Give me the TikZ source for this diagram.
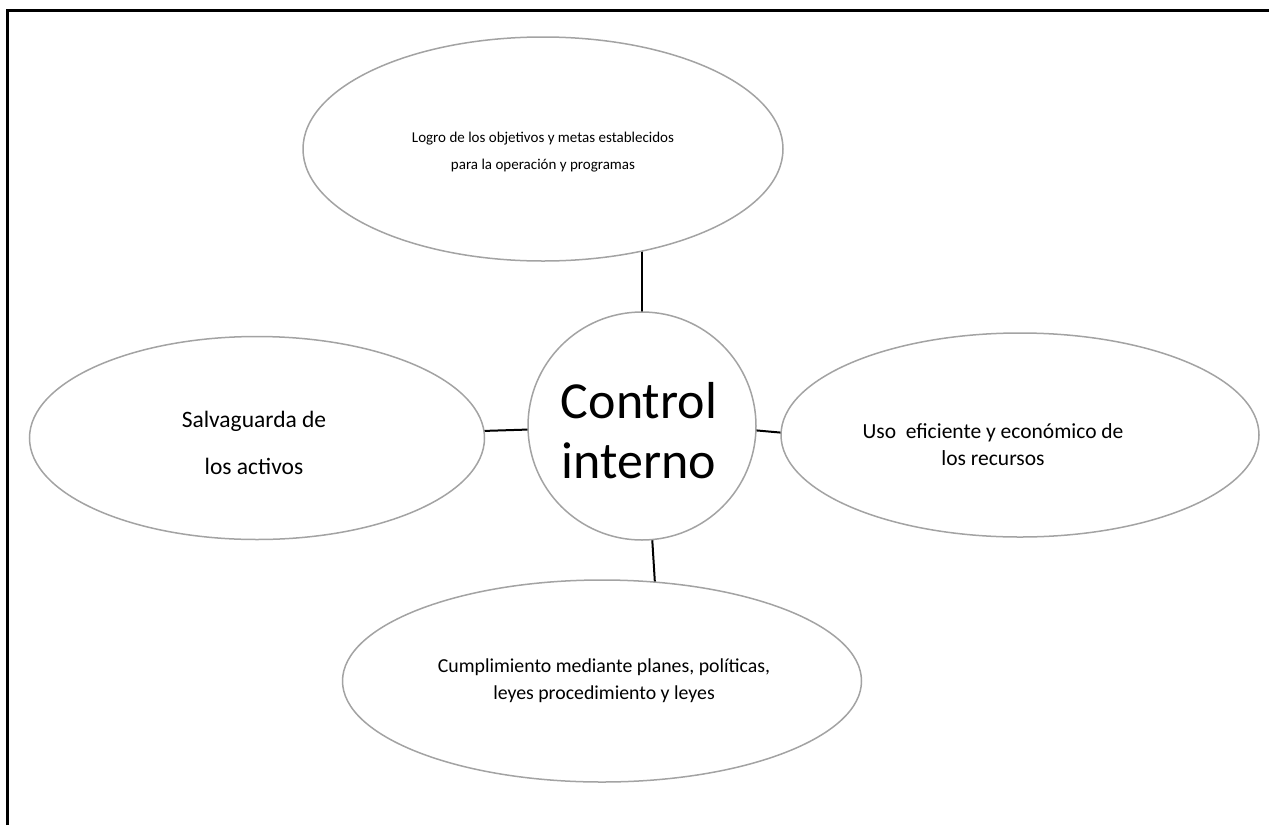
\documentclass[tikz,border=0pt]{standalone}
\usepackage{fontspec}
\setmainfont{Carlito}
\usetikzlibrary{shapes.geometric,backgrounds,calc}
\begin{document}
\begin{tikzpicture}[x=1pt,y=-1pt,
  ell/.style={draw=gray!72, line width=1.5pt, fill=white, ellipse, inner sep=0pt},
  circ/.style={draw=gray!72, line width=1.5pt, fill=white, circle, inner sep=0pt, minimum size=228pt},
  conn/.style={draw=black, line width=2pt},
  txt/.style={align=center, text=black, inner sep=0pt}]
\useasboundingbox (0,0) rectangle (1269,825);
\draw[line width=3pt] (7.5,825) -- (7.5,10) -- (1269,10);

\node[ell, minimum width=480pt, minimum height=224pt] (t) at (543,149) {};
\node[ell, minimum width=455pt, minimum height=203pt] (l) at (257,438) {};
\node[ell, minimum width=478pt, minimum height=204pt] (r) at (1020,435) {};
\node[ell, minimum width=519pt, minimum height=202pt] (b) at (602,681) {};
\node[circ] (c) at (642,426) {};

\node[txt, font=\fontsize{15}{27}\selectfont] (tt) at (543,152)
  {Logro de los objetivos y metas establecidos\\para la operación y programas};
\node[txt, font=\fontsize{23.5}{47}\selectfont] (lt) at (254,443)
  {Salvaguarda de\\los activos};
\node[txt, font=\fontsize{21.5}{27}\selectfont] (rt) at (993,445)
  {Uso\ \ eficiente y económico de\\los recursos};
\node[txt, font=\fontsize{19.8}{27}\selectfont] (bt) at (604,681)
  {Cumplimiento mediante planes, políticas,\\leyes procedimiento y leyes};
\node[txt, font=\fontsize{52}{60}\selectfont] (ct) at (639,431)
  {Control\\interno};

\begin{pgfonlayer}{background}
\draw[conn] (c.center) -- (c.center |- t.center);
\draw[conn] ($(c.south)+(10,-5)$) -- ($(b.north)+(53,5)$);
\draw[conn] (c.center) -- (l.center);
\draw[conn] ($(c.east)+(-5,4)$) -- ($(r.west)+(5,-2)$);
\end{pgfonlayer}
\end{tikzpicture}
\end{document}
